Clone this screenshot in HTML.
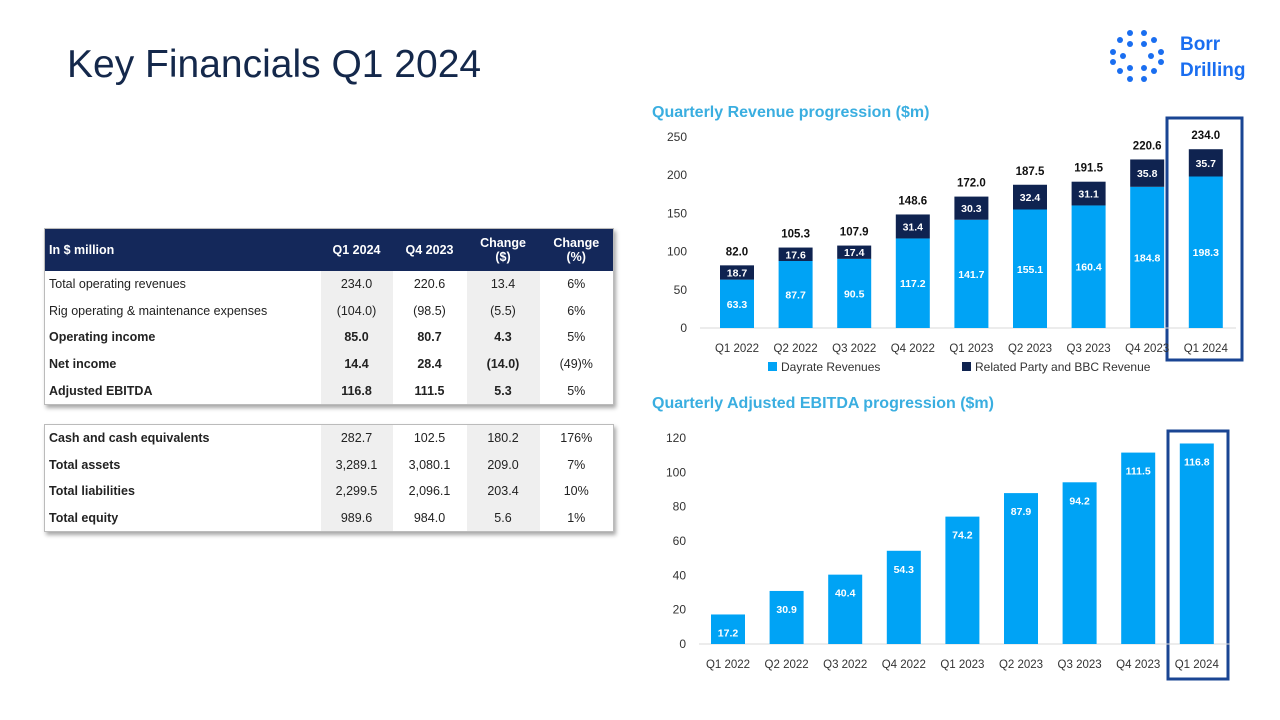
<!DOCTYPE html>
<html><head><meta charset="utf-8"><style>
body{margin:0;width:1280px;height:720px;background:#fff;font-family:"Liberation Sans",sans-serif;position:relative;overflow:hidden}
.title{position:absolute;left:67px;top:43px;font-size:39px;color:#14284b}
table{position:absolute;border-collapse:collapse;table-layout:fixed;font-size:12.5px;color:#222;box-shadow:2px 3px 4px rgba(0,0,0,.35);border:1px solid #bbb;background:#fff}
td{padding:0 4px;height:26.6px;text-align:center}
td:first-child{text-align:left}
td.g{background:#efefef}
th{background:#14285a;color:#fff;font-size:12.5px;height:40px;font-weight:bold}
th:first-child{text-align:left;padding-left:4px}
.b{font-weight:bold}
.logo{position:absolute;left:1180px;top:32px;color:#1a6ef0;font-weight:bold;font-size:19px;line-height:26px}
</style></head><body>
<div class="title">Key Financials Q1 2024</div>
<svg style="position:absolute;left:1108px;top:28px" width="60" height="56">
<g fill="#1a6ef0">
<circle cx="22" cy="5" r="3"/><circle cx="36" cy="5" r="3"/><circle cx="12" cy="12" r="3"/><circle cx="22" cy="16" r="3"/><circle cx="36" cy="16" r="3"/><circle cx="46" cy="12" r="3"/>
<circle cx="5" cy="24" r="3"/><circle cx="15" cy="28" r="3"/><circle cx="43" cy="28" r="3"/><circle cx="53" cy="24" r="3"/><circle cx="5" cy="34" r="3"/><circle cx="53" cy="34" r="3"/>
<circle cx="12" cy="43" r="3"/><circle cx="22" cy="40" r="3"/><circle cx="36" cy="40" r="3"/><circle cx="46" cy="43" r="3"/><circle cx="22" cy="51" r="3"/><circle cx="36" cy="51" r="3"/></g></svg>
<div class="logo">Borr<br>Drilling</div>

<table style="left:44px;top:228px;width:569px">
<colgroup><col style="width:276px"><col style="width:72px"><col style="width:74px"><col style="width:73px"><col style="width:74px"></colgroup>
<tr><th>In $ million</th><th>Q1 2024</th><th>Q4 2023</th><th>Change<br>($)</th><th>Change<br>(%)</th></tr>
<tr><td>Total operating revenues</td><td class="g">234.0</td><td>220.6</td><td class="g">13.4</td><td>6%</td></tr>
<tr><td>Rig operating &amp; maintenance expenses</td><td class="g">(104.0)</td><td>(98.5)</td><td class="g">(5.5)</td><td>6%</td></tr>
<tr class="b"><td>Operating income</td><td class="g">85.0</td><td>80.7</td><td class="g">4.3</td><td style="font-weight:normal">5%</td></tr>
<tr class="b"><td>Net income</td><td class="g">14.4</td><td>28.4</td><td class="g">(14.0)</td><td style="font-weight:normal">(49)%</td></tr>
<tr class="b"><td>Adjusted EBITDA</td><td class="g">116.8</td><td>111.5</td><td class="g">5.3</td><td style="font-weight:normal">5%</td></tr>
</table>
<table style="left:44px;top:424px;width:569px">
<colgroup><col style="width:276px"><col style="width:72px"><col style="width:74px"><col style="width:73px"><col style="width:74px"></colgroup>
<tr><td class="b">Cash and cash equivalents</td><td class="g">282.7</td><td>102.5</td><td class="g">180.2</td><td>176%</td></tr>
<tr><td class="b">Total assets</td><td class="g">3,289.1</td><td>3,080.1</td><td class="g">209.0</td><td>7%</td></tr>
<tr><td class="b">Total liabilities</td><td class="g">2,299.5</td><td>2,096.1</td><td class="g">203.4</td><td>10%</td></tr>
<tr><td class="b">Total equity</td><td class="g">989.6</td><td>984.0</td><td class="g">5.6</td><td>1%</td></tr>
</table>

<svg id="ch" style="position:absolute;left:0;top:0" width="1280" height="720" font-family="Liberation Sans, sans-serif">
<text x="652" y="117" fill="#3aaee0" font-size="16" font-weight="bold">Quarterly Revenue progression ($m)</text>
<text x="652" y="408" fill="#3aaee0" font-size="16" font-weight="bold">Quarterly Adjusted EBITDA progression ($m)</text>
<rect x="768" y="362" width="9" height="9" fill="#00a3f5"/>
<text x="781" y="371" font-size="12" fill="#333">Dayrate Revenues</text>
<rect x="962" y="362" width="9" height="9" fill="#0f2350"/>
<text x="975" y="371" font-size="12" fill="#333">Related Party and BBC Revenue</text>
<rect x="1167" y="118" width="75" height="242" fill="none" stroke="#1a4593" stroke-width="3"/>
<rect x="1168" y="431" width="60" height="248" fill="none" stroke="#1a4593" stroke-width="3"/>
</svg>
<script>
const categories=["Q1 2022","Q2 2022","Q3 2022","Q4 2022","Q1 2023","Q2 2023","Q3 2023","Q4 2023","Q1 2024"];
const dayrate=[63.3,87.7,90.5,117.2,141.7,155.1,160.4,184.8,198.3];
const related=[18.7,17.6,17.4,31.4,30.3,32.4,31.1,35.8,35.7];
const totals=[82.0,105.3,107.9,148.6,172.0,187.5,191.5,220.6,234.0];
const ebitda=[17.2,30.9,40.4,54.3,74.2,87.9,94.2,111.5,116.8];
const revTicks=[0,50,100,150,200,250];
const ebTicks=[0,20,40,60,80,100,120];
const svg=document.getElementById('ch');const NS='http://www.w3.org/2000/svg';
function mk(t,a,txt){const e=document.createElementNS(NS,t);for(const k in a)e.setAttribute(k,a[k]);if(txt!==undefined)e.textContent=txt;svg.appendChild(e);return e;}
const step=58.6;
function y1(v){return 328-v*191/250;} function x1(i){return 737+i*step;}
function y2(v){return 644-v*206/120;} function x2(i){return 728+i*step;}
const bw=34;
revTicks.forEach(t=>{const e=mk('text',{x:687,y:y1(t)+4,'font-size':12,'text-anchor':'end',fill:'#333'},t);

});
mk('line',{x1:700,x2:1236,y1:328,y2:328,stroke:'#d8d8d8'});
categories.forEach((c,i)=>{
 const x=x1(i);
 const r=mk('rect',{x:x-bw/2,y:y1(dayrate[i]),width:bw,height:y1(0)-y1(dayrate[i]),fill:'#00a3f5'});
 
 
 const r2=mk('rect',{x:x-bw/2,y:y1(dayrate[i]+related[i]),width:bw,height:y1(dayrate[i])-y1(dayrate[i]+related[i]),fill:'#0f2350'});
 
 
 mk('text',{x:x,y:(y1(0)+y1(dayrate[i]))/2+4,'font-size':10.5,'font-weight':'bold','text-anchor':'middle',fill:'#fff'},dayrate[i].toFixed(1));
 mk('text',{x:x,y:(y1(dayrate[i])+y1(dayrate[i]+related[i]))/2+4,'font-size':10.5,'font-weight':'bold','text-anchor':'middle',fill:'#fff'},related[i].toFixed(1));
 const tl=mk('text',{x:x,y:y1(totals[i])-10,'font-size':11.5,'font-weight':'bold','text-anchor':'middle',fill:'#111'},totals[i].toFixed(1));
 
 
 const xl=mk('text',{x:x,y:352,'font-size':11.5,'text-anchor':'middle',fill:'#333'},c);
 
 
});
ebTicks.forEach(t=>{const e=mk('text',{x:686,y:y2(t)+4,'font-size':12,'text-anchor':'end',fill:'#333'},t);

});
mk('line',{x1:699,x2:1230,y1:644,y2:644,stroke:'#d8d8d8'});
categories.forEach((c,i)=>{
 const x=x2(i);
 const r=mk('rect',{x:x-bw/2,y:y2(ebitda[i]),width:bw,height:y2(0)-y2(ebitda[i]),fill:'#00a3f5'});
 
 
 mk('text',{x:x,y:y2(ebitda[i])+22,'font-size':10.5,'font-weight':'bold','text-anchor':'middle',fill:'#fff'},ebitda[i].toFixed(1));
 const xl=mk('text',{x:x,y:668,'font-size':11.5,'text-anchor':'middle',fill:'#333'},c);
 
 
});
</script>
</body></html>
